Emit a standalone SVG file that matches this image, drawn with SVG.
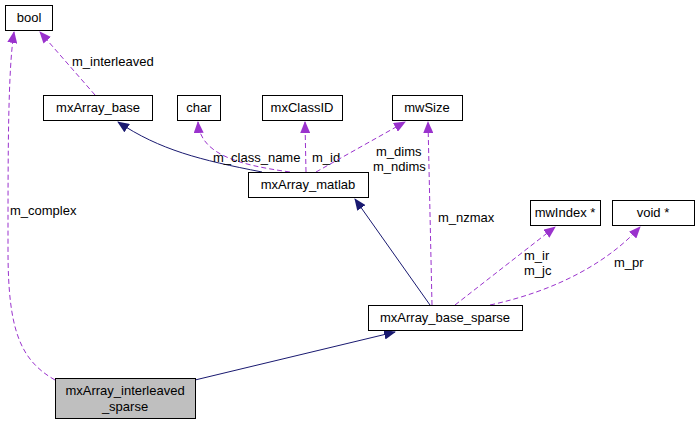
<svg xmlns="http://www.w3.org/2000/svg" width="699" height="425" viewBox="0 0 699 425">
<style>
.n rect{fill:#fff;stroke:#000;stroke-width:1}
text{font-family:"Liberation Sans",Arial,sans-serif;font-size:13px;fill:#000}
.nt{text-anchor:middle}
.d{fill:none;stroke:#9a32cd;stroke-dasharray:5,3}
.s{fill:none;stroke:#191970}
</style>
<defs>
<marker id="ap" markerWidth="12" markerHeight="10" refX="11" refY="5" orient="auto" markerUnits="userSpaceOnUse"><path d="M0,0L12,5L0,10Z" fill="#9a32cd"/></marker>
<marker id="an" markerWidth="12" markerHeight="10" refX="11" refY="5" orient="auto" markerUnits="userSpaceOnUse"><path d="M0,0L12,5L0,10Z" fill="#191970"/></marker>
</defs>
<rect width="699" height="425" fill="#fff"/>
<g id="connectors">
<path class="d" d="M55,380C20,360 8,330 8,250C8,150 8,70 14,32" marker-end="url(#ap)"/>
<text x="10" y="215">m_complex</text>
<path class="d" d="M95,95L40,32" marker-end="url(#ap)"/>
<text x="72" y="66">m_interleaved</text>
<path class="s" d="M262,172C200,160 160,150 118,122" marker-end="url(#an)"/>
<path class="d" d="M290,172C240,165 200,155 198,122" marker-end="url(#ap)"/>
<text x="213" y="162">m_class_name</text>
<path class="d" d="M306,172L305,122" marker-end="url(#ap)"/>
<text x="312" y="162">m_id</text>
<path class="d" d="M316,172L405,122" marker-end="url(#ap)"/>
<text x="376" y="156">m_dims</text>
<text x="373" y="171">m_ndims</text>
<path class="d" d="M432,305L428,122" marker-end="url(#ap)"/>
<text x="438" y="222">m_nzmax</text>
<path class="s" d="M430,305L355,199" marker-end="url(#an)"/>
<path class="d" d="M455,305L555,227" marker-end="url(#ap)"/>
<text x="524" y="260">m_ir</text>
<text x="524" y="275">m_jc</text>
<path class="d" d="M490,305C560,290 610,260 640,227" marker-end="url(#ap)"/>
<text x="614" y="267">m_pr</text>
<path class="s" d="M195,380L395,332" marker-end="url(#an)"/>
</g>
<g id="bool" class="n"><rect x="5.500" y="5.500" width="47" height="25"/><text class="nt" x="29" y="22">bool</text></g>
<g id="mxArray_base" class="n"><rect x="43.500" y="95.500" width="109" height="25"/><text class="nt" x="98" y="112">mxArray_base</text></g>
<g id="char" class="n"><rect x="177.500" y="95.500" width="43" height="25"/><text class="nt" x="199" y="112">char</text></g>
<g id="mxClassID" class="n"><rect x="262.500" y="95.500" width="80" height="25"/><text class="nt" x="302" y="112">mxClassID</text></g>
<g id="mwSize" class="n"><rect x="392.500" y="95.500" width="70" height="25"/><text class="nt" x="427" y="112">mwSize</text></g>
<g id="mxArray_matlab" class="n"><rect x="248.500" y="172.500" width="120" height="25"/><text class="nt" x="308" y="189">mxArray_matlab</text></g>
<g id="mwIndex" class="n"><rect x="530.500" y="200.500" width="70" height="25"/><text class="nt" x="565" y="217">mwIndex *</text></g>
<g id="void" class="n"><rect x="612.500" y="200.500" width="82" height="25"/><text class="nt" x="653" y="217">void *</text></g>
<g id="mxArray_base_sparse" class="n"><rect x="368.500" y="305.500" width="154" height="25"/><text class="nt" x="445" y="322">mxArray_base_sparse</text></g>
<g id="mxArray_interleaved_sparse"><rect x="55.500" y="378.500" width="140" height="40" fill="#bfbfbf" stroke="#000"/><text class="nt" x="125" y="395">mxArray_interleaved</text><text class="nt" x="125" y="411">_sparse</text></g>
</svg>
